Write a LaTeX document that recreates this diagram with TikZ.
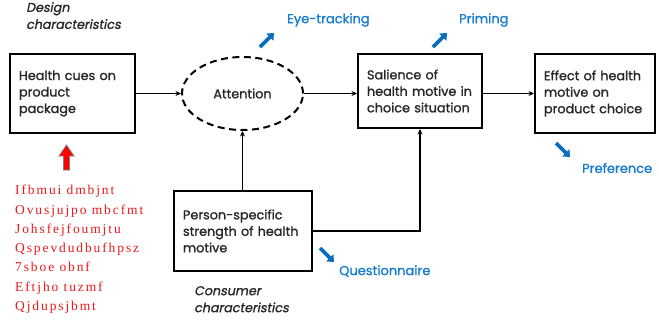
\documentclass[tikz,border=0pt]{standalone}
\usepackage{fontspec}
\setmainfont{Poppins}[FakeBold=1.2]
\newfontfamily\boxfont[FakeBold=1.3]{Poppins}
\newfontfamily\redfont[LetterSpace=14]{Liberation Serif}
\newfontfamily\slfont[FakeSlant=0.2,FakeBold=1.3]{Poppins}
\usetikzlibrary{arrows.meta,shapes.geometric}
\definecolor{lblue}{RGB}{25,125,205}
\definecolor{ablue}{RGB}{10,110,190}
\definecolor{ared}{RGB}{235,25,25}
\definecolor{tgray}{RGB}{40,40,40}
\begin{document}
\begin{tikzpicture}[x=1pt,y=-1pt,
  box/.style={draw,line width=2pt,inner sep=0pt,align=left,rectangle,text=tgray,
    font=\boxfont\fontsize{12.8}{16.5}\selectfont},
  conn/.style={line width=1.9pt,-{Stealth[length=5.5pt,width=5pt]}},
  barrow/.style={line width=3.6pt,ablue,-{Triangle[length=6pt,width=10pt]}},
  blab/.style={anchor=west,inner sep=0pt,text=lblue,font=\boxfont\fontsize{13}{15}\selectfont},
  charlab/.style={anchor=north west,inner sep=0pt,align=left,text=tgray,font=\slfont\fontsize{12.7}{17}\selectfont}]
\useasboundingbox (0,0) rectangle (659,325);

\node[charlab] (design) at (26,2) {Design\\characteristics};
\node[charlab] (consumer) at (194,286) {Consumer\\characteristics};

\node[box,minimum width=125pt,minimum height=79pt,text width=107pt] (cues) at (72.5,93.5) {Health cues on\\product\\package};
\node[draw,ellipse,dash pattern=on 7pt off 4.5pt,line width=2pt,minimum width=121pt,minimum height=73pt,inner sep=0pt,text=tgray,font=\boxfont\fontsize{12.8}{15}\selectfont] (att) at (242.5,93.5) {Attention};
\node[box,minimum width=124pt,minimum height=74pt,text width=106pt] (sal) at (420,91) {Salience of\\health motive in\\choice situation};
\node[box,minimum width=120pt,minimum height=79pt,text width=102pt] (eff) at (595,93.5) {Effect of health\\motive on\\product choice};
\node[box,minimum width=138pt,minimum height=80pt,text width=120pt] (pers) at (243,231) {Person-specific\\strength of health\\motive};

\draw[conn] (cues.east |- att.west) -- (att.west);
\draw[conn] (att.east) -- (att.east -| sal.west);
\draw[conn] (att.east -| sal.east) -- (att.east -| eff.west);
\draw[conn] (pers.north -| att.south) -- (att.south);
\draw[conn] (pers.east) -| (sal.south);

% blue method arrows
\coordinate (e1) at (260,47); \coordinate (e2) at (274,33);
\coordinate (p1) at (433,47); \coordinate (p2) at (447,33);
\coordinate (r1) at (556,143); \coordinate (r2) at (570,157);
\coordinate (q1) at (320,248); \coordinate (q2) at (334,262);
\draw[barrow] (e1) -- (e2);
\draw[barrow] (p1) -- (p2);
\draw[barrow] (r1) -- (r2);
\draw[barrow] (q1) -- (q2);
\node[blab] (eye) at (287,20) {Eye-tracking};
\node[blab] (prim) at (459,20) {Priming};
\node[blab] (pref) at (582,168) {Preference};
\node[blab] (quest) at (339,271) {Questionnaire};

% red arrow
\draw[fill=red,draw=gray,line width=0.8pt] (63.5,170) -- (63.5,156) -- (59,156) -- (66.5,145) -- (74,156) -- (69.5,156) -- (69.5,170) -- cycle;

\node[anchor=north west,inner sep=0pt,align=left,text=ared,font=\redfont\fontsize{13.5}{19.3}\selectfont] (reds) at (15,185)
 {Ifbmui dmbjnt\\Ovusjujpo mbcfmt\\Johsfejfoumjtu\\Qspevdudbufhpsz\\7sboe obnf\\Eftjho tuzmf\\Qjdupsjbmt};
\end{tikzpicture}
\end{document}
